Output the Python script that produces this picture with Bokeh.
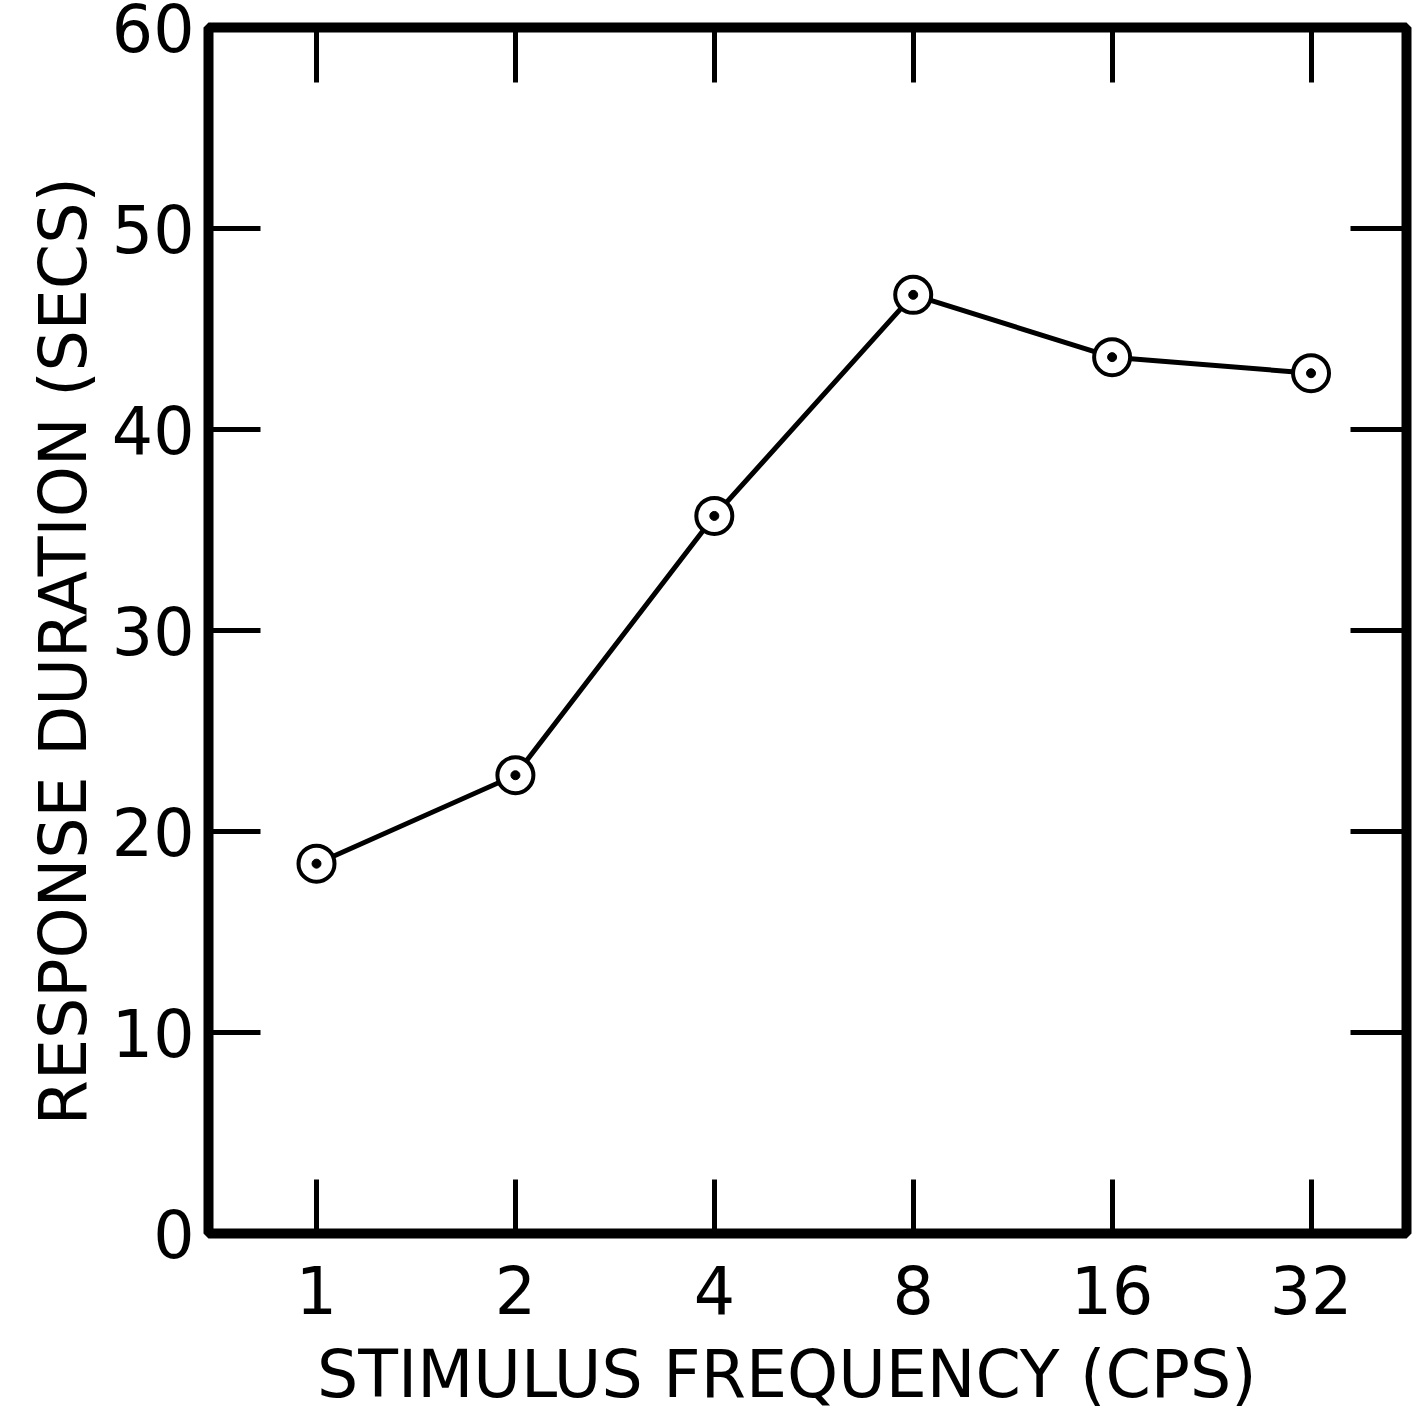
import numpy as np
from bokeh.plotting import figure
from bokeh.models import Range1d, FixedTicker, LinearAxis, LogAxis
from bokeh.embed import file_html
from bokeh.resources import INLINE

# ---- data ----
freqs = [1, 2, 4, 8, 16, 32]
freq_labels = ["1", "2", "4", "8", "16", "32"]
durations = [18.4, 22.8, 35.7, 46.7, 43.6, 42.8]
y_ticks = [0, 10, 20, 30, 40, 50, 60]
y_tick_labels = ["0", "10", "20", "30", "40", "50", "60"]
x_title = "STIMULUS  FREQUENCY  (CPS)"
y_title = "RESPONSE  DURATION  (SECS)"

FONT = "DejaVu Sans"
FS = "65px"
WEIGHT = "normal"

p = figure(width=1422, height=1417, x_axis_type="log",
           x_range=Range1d(2 ** -0.543, 2 ** 5.48), y_range=Range1d(0, 60),
           output_backend="svg", toolbar_location=None,
           min_border_left=208, min_border_right=16,
           min_border_top=27, min_border_bottom=184)

p.background_fill_color = "white"
p.border_fill_color = "white"
p.outline_line_color = "black"
p.outline_line_width = 10
p.grid.visible = False

def style_axis(ax, ticks, labels, tick_len, show_labels):
    ax.ticker = FixedTicker(ticks=ticks)
    ax.major_label_overrides = {t: l for t, l in zip(ticks, labels)}
    ax.major_tick_in = tick_len
    ax.major_tick_out = 0
    ax.minor_tick_line_color = None
    ax.axis_line_color = None
    ax.major_tick_line_width = 5
    ax.major_tick_line_color = "black"
    ax.major_label_text_font = FONT
    ax.major_label_text_font_style = WEIGHT
    ax.major_label_text_color = "black"
    if show_labels:
        ax.major_label_text_font_size = FS
    else:
        ax.major_label_text_font_size = "0px"
        ax.major_label_standoff = 0

# bottom x axis
xa = p.xaxis[0]
style_axis(xa, freqs, freq_labels, 54, True)
xa.major_label_standoff = 31
xa.axis_label = x_title
xa.axis_label_text_font = FONT
xa.axis_label_text_font_size = FS
xa.axis_label_text_font_style = WEIGHT
xa.axis_label_text_color = "black"
xa.axis_label_standoff = 20

# left y axis
ya = p.yaxis[0]
style_axis(ya, y_ticks, y_tick_labels, 52, True)
ya.major_label_standoff = 14
ya.axis_label = y_title
ya.axis_label_text_font = FONT
ya.axis_label_text_font_size = FS
ya.axis_label_text_font_style = WEIGHT
ya.axis_label_text_color = "black"
ya.axis_label_standoff = 8

# top and right tick-only axes
top = LogAxis()
style_axis(top, freqs, freq_labels, 55, False)
p.add_layout(top, "above")
right = LinearAxis()
style_axis(right, y_ticks, y_tick_labels, 56, False)
p.add_layout(right, "right")

# data line and markers
p.line(freqs, durations, line_color="black", line_width=5)
p.scatter(freqs, durations, marker="circle", size=36, fill_color="white",
          line_color="black", line_width=4)
p.scatter(freqs, durations, marker="circle", size=9, fill_color="black",
          line_color="black")

open("out.html", "w").write(file_html(p, INLINE))
